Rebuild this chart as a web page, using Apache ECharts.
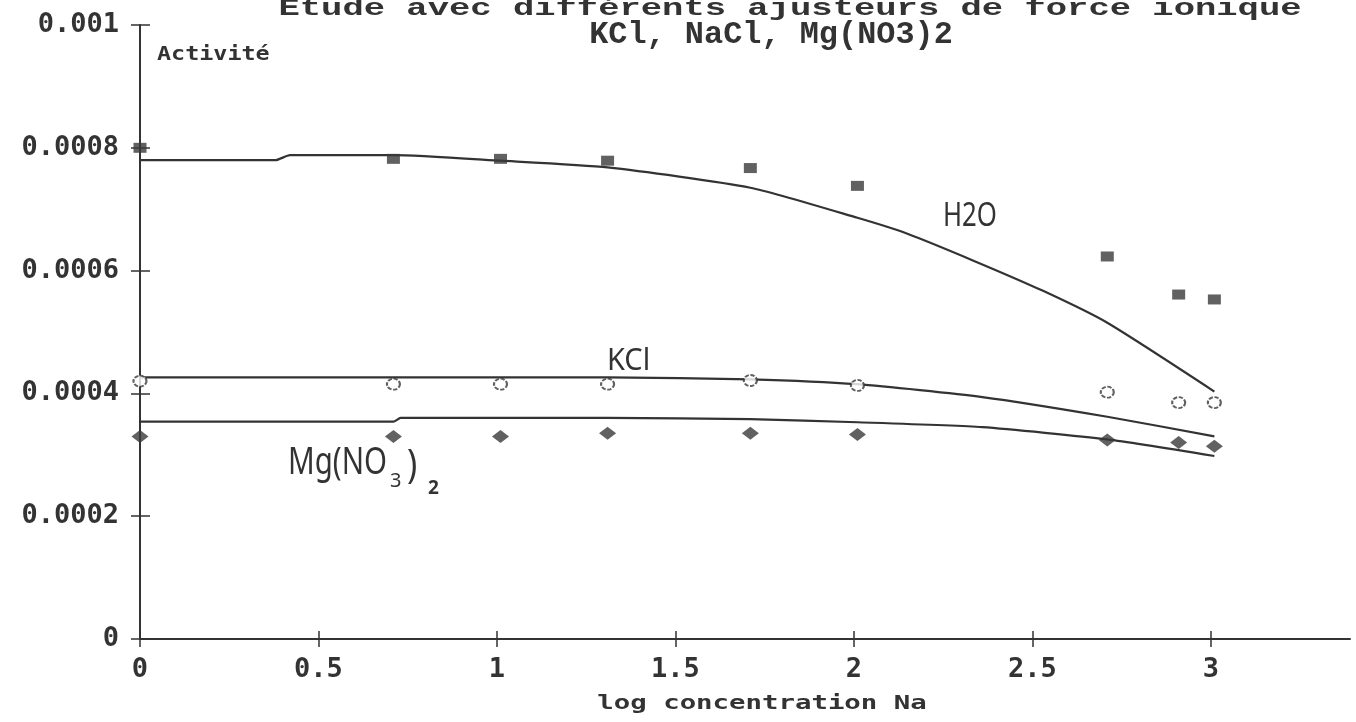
<!DOCTYPE html>
<html>
<head>
<meta charset="utf-8">
<script src="https://cdn.jsdelivr.net/npm/echarts@6/dist/echarts.min.js"></script>
<style>
html,body{margin:0;padding:0;background:#fff;}
#chart{width:1356px;height:722px;}
</style>
</head>
<body>
<div id="chart"></div>
<script>
// ---- data ----
const titleLine1 = 'Etude avec différents ajusteurs de force ionique';
const titleLine2 = 'KCl, NaCl, Mg(NO3)2';
const xAxisName = 'log concentration Na';
const yAxisName = 'Activité';
const xTickValues = [0, 0.5, 1, 1.5, 2, 2.5, 3];
const xTickLabels = ['0', '0.5', '1', '1.5', '2', '2.5', '3'];
const yTickLabels = ['0', '0.0002', '0.0004', '0.0006', '0.0008', '0.001'];

// measured points (x = log concentration Na)
const xPts   = [0, 0.71, 1.01, 1.31, 1.71, 2.01, 2.71, 2.91, 3.01];
const h2oPts = [0.000800, 0.000782, 0.000782, 0.000779, 0.000767, 0.000738, 0.000623, 0.000561, 0.000553];
const kclPts = [0.000420, 0.000415, 0.000415, 0.000415, 0.000421, 0.000413, 0.000402, 0.000385, 0.000385];
const mgPts  = [0.000330, 0.000330, 0.000330, 0.000335, 0.000335, 0.000333, 0.000324, 0.000320, 0.000314];

// fitted curves
const h2oFitX = [0, 0.38, 0.42, 0.71, 1.01, 1.31, 1.71, 2.01, 2.15, 2.34, 2.53, 2.71, 3.01];
const h2oFitY = [0.000780, 0.000780, 0.000788, 0.000788, 0.000779, 0.000768, 0.000735, 0.000686, 0.000660, 0.000615, 0.000567, 0.000515, 0.000403];
const kclFitX = [0, 1.31, 1.71, 2.01, 2.36, 2.71, 3.01];
const kclFitY = [0.000426, 0.000426, 0.000423, 0.000415, 0.000394, 0.000362, 0.000330];
const mgFitX  = [0, 0.71, 0.73, 1.31, 1.71, 2.01, 2.36, 2.71, 3.01];
const mgFitY  = [0.000354, 0.000354, 0.000360, 0.000360, 0.000358, 0.000353, 0.000345, 0.000325, 0.000298];

const curveLabels = ['H2O', 'KCl'];

// ---- chart ----
const ink = '#333333';
const mark = '#3a3a3a';
const zip = (xs, ys) => xs.map((x, i) => [x, ys[i]]);

const chart = echarts.init(document.getElementById('chart'), null, {renderer: 'canvas'});

const option = {
  backgroundColor: '#ffffff',
  animation: false,
  grid: {left: 140, right: 6, top: 25, bottom: 83, containLabel: false},
  xAxis: [{
    type: 'value', min: 0, max: 3.39, interval: 0.5, position: 'bottom',
    axisLine: {show: true, onZero: false, lineStyle: {color: ink, width: 2}},
    axisTick: {show: true, length: 8, customValues: xTickValues, lineStyle: {color: ink, width: 1.5}},
    axisLabel: {
      show: true, customValues: xTickValues, margin: 17, color: ink,
      fontFamily: 'DejaVu Sans Mono', fontWeight: 'bold', fontSize: 27,
      formatter: v => { const i = xTickValues.findIndex(t => Math.abs(t - v) < 1e-6); return i >= 0 ? xTickLabels[i] : ''; }
    },
    splitLine: {show: false}
  }, {
    type: 'value', min: 0, max: 3.39, interval: 0.5, position: 'bottom',
    axisLine: {show: false},
    axisTick: {show: true, inside: true, length: 8, customValues: xTickValues, lineStyle: {color: ink, width: 1.5}},
    axisLabel: {show: false},
    splitLine: {show: false}
  }],
  yAxis: [{
    type: 'value', min: 0, max: 0.001, interval: 0.0002, position: 'left',
    axisLine: {show: true, onZero: false, lineStyle: {color: ink, width: 2}},
    axisTick: {show: true, length: 9, lineStyle: {color: ink, width: 1.5}},
    axisLabel: {
      show: true, margin: 21, color: ink,
      fontFamily: 'DejaVu Sans Mono', fontWeight: 'bold', fontSize: 27,
      formatter: v => yTickLabels[Math.round(v / 0.0002)] || ''
    },
    splitLine: {show: false}
  }, {
    type: 'value', min: 0, max: 0.001, interval: 0.0002, position: 'left',
    axisLine: {show: false},
    axisTick: {show: true, inside: true, length: 10, lineStyle: {color: ink, width: 1.5}},
    axisLabel: {show: false},
    splitLine: {show: false}
  }],
  series: [
    {name: 'H2O fit', type: 'line', data: zip(h2oFitX, h2oFitY), showSymbol: false, symbol: 'none',
     smooth: 0.2, lineStyle: {color: ink, width: 2.2}, z: 2},
    {name: 'KCl fit', type: 'line', data: zip(kclFitX, kclFitY), showSymbol: false, symbol: 'none',
     smooth: 0.2, lineStyle: {color: ink, width: 2.2}, z: 2},
    {name: 'Mg fit', type: 'line', data: zip(mgFitX, mgFitY), showSymbol: false, symbol: 'none',
     smooth: 0.2, lineStyle: {color: ink, width: 2.2}, z: 2},
    {name: 'H2O', type: 'scatter', data: zip(xPts, h2oPts), symbol: 'rect', symbolSize: [13, 10],
     itemStyle: {color: mark}, z: 3},
    {name: 'KCl', type: 'scatter', data: zip(xPts, kclPts), symbol: 'emptyCircle', symbolSize: [13, 11],
     itemStyle: {color: mark, borderColor: mark, borderWidth: 2.2, borderType: [4, 1.5]}, z: 3},
    {name: 'Mg(NO3)2', type: 'scatter', data: zip(xPts, mgPts), symbol: 'diamond', symbolSize: [17, 13],
     itemStyle: {color: mark}, z: 3}
  ],
  graphic: [
    {type: 'text', x: 790, y: 9, scaleX: 1.48,
     style: {text: titleLine1, font: "bold 24px 'Liberation Mono'", fill: ink, textAlign: 'center', textVerticalAlign: 'middle'}},
    {type: 'text', x: 771, y: 35, scaleX: 1.1, scaleY: 1.05,
     style: {text: titleLine2, font: "bold 29px 'Liberation Mono'", fill: ink, textAlign: 'center', textVerticalAlign: 'middle'}},
    {type: 'text', x: 157, y: 55, scaleX: 1.17,
     style: {text: yAxisName, font: "bold 20px 'DejaVu Sans Mono'", fill: ink, textAlign: 'left', textVerticalAlign: 'middle'}},
    {type: 'text', x: 762, y: 704, scaleX: 1.44,
     style: {text: xAxisName, font: "bold 19px 'DejaVu Sans Mono'", fill: ink, textAlign: 'center', textVerticalAlign: 'middle'}},
    {type: 'text', x: 943, y: 216, scaleX: 0.92, scaleY: 1.2,
     style: {text: curveLabels[0], font: "28px 'Noto Sans'", fill: ink, textAlign: 'left', textVerticalAlign: 'middle'}},
    {type: 'text', x: 607, y: 361, scaleY: 1.05,
     style: {text: curveLabels[1], font: "29px 'Noto Sans'", fill: ink, textAlign: 'left', textVerticalAlign: 'middle'}},
    {type: 'text', x: 288, y: 463, scaleX: 0.92, scaleY: 1.2,
     style: {text: 'Mg(NO', font: "32px 'Noto Sans'", fill: ink, textAlign: 'left', textVerticalAlign: 'middle'}},
    {type: 'text', x: 390, y: 481,
     style: {text: '3', font: "20px 'Noto Sans'", fill: ink, textAlign: 'left', textVerticalAlign: 'middle'}},
    {type: 'text', x: 407, y: 466, scaleY: 1.2,
     style: {text: ')', font: "34px 'Noto Sans'", fill: ink, textAlign: 'left', textVerticalAlign: 'middle'}},
    {type: 'text', x: 428, y: 489,
     style: {text: '2', font: "bold 19px 'Noto Sans'", fill: ink, textAlign: 'left', textVerticalAlign: 'middle'}}
  ]
};
chart.setOption(option);
</script>
</body>
</html>
